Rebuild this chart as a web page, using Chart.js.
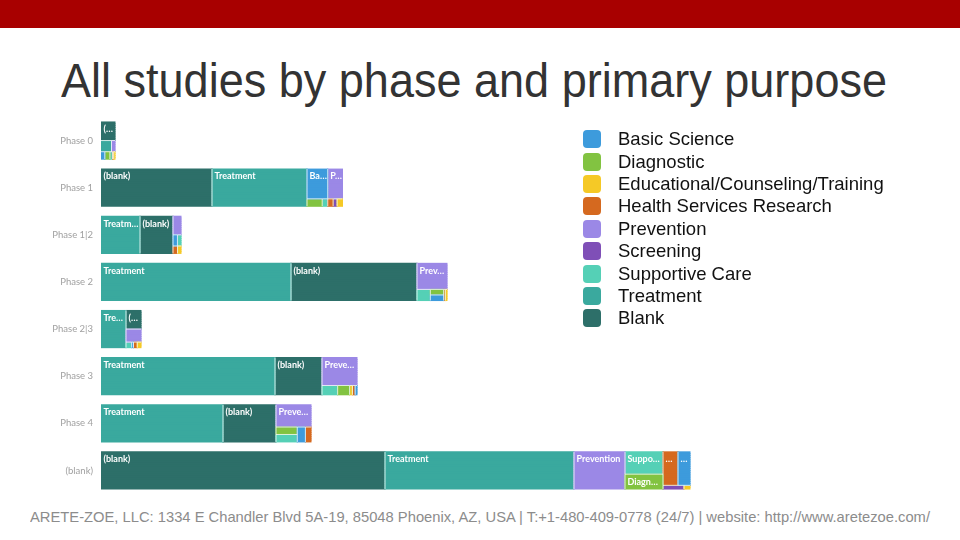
<!DOCTYPE html>
<html>
<head>
<meta charset="utf-8">
<script src="https://cdn.jsdelivr.net/npm/chart.js@4.4.1/dist/chart.umd.min.js"></script>
<style>
  body { margin: 0; width: 960px; height: 540px; background: #fff; position: relative; overflow: hidden; font-family: "Liberation Sans", Arial, sans-serif; }
  #band { position: absolute; left: 0; top: 0; width: 960px; height: 28px; background: #a80000; }
  #title { position: absolute; left: 61px; top: 56px; font-size: 49px; line-height: 1; color: #333; white-space: nowrap; transform-origin: left top; }
  #footer { position: absolute; left: 30px; top: 509px; font-size: 15px; line-height: 1; color: #8c8c8c; white-space: nowrap; transform-origin: left top; }
  #wrap { position: absolute; left: 0; top: 117px; width: 701px; height: 377px; }
  #legend { position: absolute; left: 583px; top: 128px; }
  .item { height: 22.4px; display: flex; align-items: center; font-size: 18.5px; color: #111; }
  .sw { width: 18px; height: 18px; border-radius: 4px; margin-right: 17px; }
</style>
</head>
<body>
<div id="band"></div>
<div id="title">All studies by phase and primary purpose</div>
<div id="wrap"><canvas id="myChart"></canvas></div>
<div id="legend"></div>
<div id="footer">ARETE-ZOE, LLC: 1334 E Chandler Blvd 5A-19, 85048 Phoenix, AZ, USA | T:+1-480-409-0778 (24/7) | website: http://www.aretezoe.com/</div>
<script>
const phases = ['Phase 0', 'Phase 1', 'Phase 1|2', 'Phase 2', 'Phase 2|3', 'Phase 3', 'Phase 4', '(blank)'];
const purposes = ['Basic Science', 'Diagnostic', 'Educational/Counseling/Training', 'Health Services Research',
  'Prevention', 'Screening', 'Supportive Care', 'Treatment', 'Blank'];
const cellNames = ['Basic Science', 'Diagnostic', 'Educational/Counseling/Training', 'Health Services Research',
  'Prevention', 'Screening', 'Supportive Care', 'Treatment', '(blank)'];

// number of studies, one value per phase
const basicScience   = [3, 68, 5, 8, 1, 2, 13, 44];
const diagnostic     = [4, 11, 0, 8, 0, 13, 17, 58];
const educational    = [1, 4, 3, 2, 2, 3, 0, 2];
const healthServices = [1, 4, 4, 2, 2, 3, 9, 55];
const prevention     = [4, 48, 16, 84, 21, 102, 84, 204];
const screening      = [0, 3, 0, 0, 0, 0, 0, 7];
const supportiveCare = [2, 4, 4, 16, 3, 17, 17, 94];
const treatment      = [12, 380, 156, 760, 100, 696, 488, 756];
const blank          = [29, 444, 132, 504, 31, 188, 212, 1136];

const series = [basicScience, diagnostic, educational, healthServices, prevention, screening, supportiveCare, treatment, blank];
const colors = ['#3d9bdc', '#82c341', '#f5c926', '#d5691f', '#9b88e6', '#7f4fb7', '#55d0b6', '#3aa99e', '#2d6f69'];

// treemap nesting per phase (indexes into purposes), slices alternate across / down
const layouts = [
  [[8, [7, 4], [0, 1, 6, 3, 2]]],
  [8, 7, [0, [1, 6]], [4, [3, 5, 2]]],
  [7, 8, [4, [0, 6], [3, 2]]],
  [7, 8, [4, [6, [1, 0], 3, 2]]],
  [7, [8, 4, [6, 0, 3, 2]]],
  [7, 8, [4, [6, 1, 2, 3, 0]]],
  [7, 8, [4, [[1, 6], 0, 3]]],
  [8, 7, 4, [6, 1], [[3, 0], [5, 2]]]
];

const LANES = 20;     // vertical resolution of one row
const BAR = 0.79;     // row thickness in category units

function nodeSum(node, r) {
  return Array.isArray(node) ? node.reduce((s, n) => s + nodeSum(n, r), 0) : series[node][r];
}

const cells = [];
function place(node, r, x0, x1, y0, y1, across) {
  if (!Array.isArray(node)) {
    if (series[node][r] > 0) cells.push({cat: node, r, x0, x1, y0, y1});
    return;
  }
  const total = nodeSum(node, r);
  let acc = 0;
  node.forEach(child => {
    const v = nodeSum(child, r);
    if (v <= 0) return;
    const a = acc / total, b = (acc + v) / total;
    acc += v;
    if (across) place(child, r, x0 + (x1 - x0) * a, x0 + (x1 - x0) * b, y0, y1, false);
    else place(child, r, x0, x1, y0 + (y1 - y0) * a, y0 + (y1 - y0) * b, true);
  });
}
layouts.forEach((lay, r) => place(lay, r, 0, nodeSum(lay, r), 0, 1, true));

const datasets = purposes.map((p, c) => {
  const data = [];
  cells.filter(cell => cell.cat === c).forEach(cell => {
    const k0 = Math.round(cell.y0 * LANES), k1 = Math.round(cell.y1 * LANES);
    for (let k = k0; k < k1; k++) {
      data.push({
        x: [cell.x0, cell.x1],
        y: cell.r - BAR / 2 + (k + 0.5) * BAR / LANES,
        first: k === k0, lanes: k1 - k0, top: k0, name: cellNames[c]
      });
    }
  });
  return {
    label: p, data, stack: 'all',
    backgroundColor: colors[c],
    borderWidth: 0,
    inflateAmount: 0.5,
    barPercentage: 1, categoryPercentage: 1
  };
});

function fitText(ctx, s, avail) {
  if (ctx.measureText(s).width <= avail) return s;
  for (let n = s.length - 1; n >= 1; n--) {
    const t = s.slice(0, n).trimEnd() + '…';
    if (ctx.measureText(t).width <= avail) return t;
  }
  return ctx.measureText('…').width <= avail ? '…' : '';
}

// thin pale separators and the white names inside the cells
const cellLabels = {
  id: 'cellLabels',
  afterDatasetsDraw(chart) {
    const ctx = chart.ctx;
    ctx.save();
    ctx.strokeStyle = 'rgba(240,249,247,0.85)';
    ctx.lineWidth = 1;
    ctx.font = 'bold 9px Lato';
    ctx.fillStyle = '#ffffff';
    ctx.textBaseline = 'top';
    chart.data.datasets.forEach((ds, di) => {
      chart.getDatasetMeta(di).data.forEach((bar, i) => {
        const raw = ds.data[i];
        if (!raw.first) return;
        const left = Math.min(bar.x, bar.base);
        const w = Math.abs(bar.x - bar.base);
        const top = bar.y - bar.height / 2;
        const h = bar.height * raw.lanes;
        ctx.beginPath();
        if (raw.x[0] > 0) { ctx.moveTo(left, top); ctx.lineTo(left, top + h); }
        if (raw.top > 0) { ctx.moveTo(left, top); ctx.lineTo(left + w, top); }
        ctx.stroke();
        if (h < 14 || w < 8) return;
        const text = fitText(ctx, raw.name, w - 3);
        if (text) ctx.fillText(text, left + 2.5, top + 3);
      });
    });
    ctx.restore();
  }
};

new Chart(document.getElementById('myChart'), {
  type: 'bar',
  data: {datasets},
  plugins: [cellLabels],
  options: {
    indexAxis: 'y',
    responsive: true,
    maintainAspectRatio: false,
    animation: false,
    layout: {padding: 0},
    plugins: {legend: {display: false}, tooltip: {enabled: false}},
    scales: {
      x: {type: 'linear', min: 0, max: 2400, stacked: false, display: false},
      y: {
        type: 'linear', min: -0.5, max: 7.5, reverse: true, stacked: true, offset: false,
        grid: {display: false, drawTicks: false, offset: false},
        border: {display: false},
        afterBuildTicks: s => { s.ticks = phases.map((p, i) => ({value: i})); },
        afterFit: s => { s.width = 101; s.paddingTop = 0; s.paddingBottom = 0; },
        ticks: {
          padding: 8, color: '#a0a0a0',
          font: {family: 'Lato', size: 9.5},
          callback: v => phases[v]
        }
      }
    }
  }
});

// legend
const legend = document.getElementById('legend');
purposes.forEach((p, c) => {
  const row = document.createElement('div');
  row.className = 'item';
  row.innerHTML = '<div class="sw" style="background:' + colors[c] + '"></div><span>' + p + '</span>';
  legend.appendChild(row);
});

// the slide text is slightly condensed
function squeeze(id, target) {
  const el = document.getElementById(id);
  el.style.transform = 'scaleX(' + (target / el.getBoundingClientRect().width) + ')';
}
squeeze('title', 826);
squeeze('footer', 900);
</script>
</body>
</html>
